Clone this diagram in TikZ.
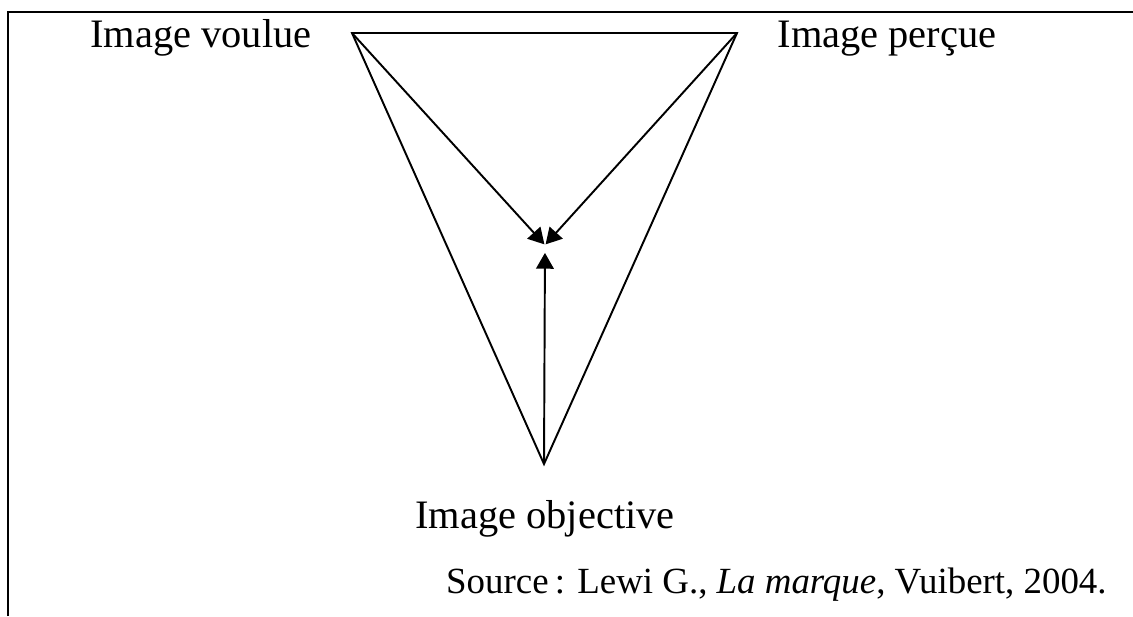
\documentclass[tikz,border=0pt]{standalone}
\usepackage{fontspec}
\setmainfont{Liberation Serif}
\usetikzlibrary{arrows.meta}

\begin{document}
\begin{tikzpicture}[x=0.02cm,y=-0.02cm,
  label text/.style={font=\fontsize{23}{27}\selectfont, inner sep=0pt, anchor=base},
  side/.style={line width=1.1pt, line join=miter},
  pointer/.style={line width=1.1pt, -{Triangle[length=9pt,width=10pt]}}]
\useasboundingbox (0,0) rectangle (1133,616);
% frame
\draw[line width=1.3pt] (8,616) -- (8,12) -- (1133,12);
% corners of the triangle
\coordinate (voulue) at (352,33);
\coordinate (percue) at (737,33);
\coordinate (objective) at (544,464);
\coordinate (centre) at (545,245);
\node[label text] (tvoulue) at (201,47) {Image voulue};
\node[label text] (tpercue) at (887,47) {Image perçue};
\node[label text] (tobjective) at (545,528) {Image objective};
\node[label text, font=\fontsize{21}{25}\selectfont, anchor=base east] (source) at (1107,593) {Source\,: Lewi G., \textit{La marque}, Vuibert, 2004.};
\draw[side] (voulue) -- (percue) -- (objective) -- cycle;
\draw[pointer, shorten >=0.5pt] (voulue) -- (centre);
\draw[pointer, shorten >=0.5pt] (percue) -- (centre);
\draw[pointer, shorten >=4.5pt] (objective) -- (centre);
\end{tikzpicture}
\end{document}
